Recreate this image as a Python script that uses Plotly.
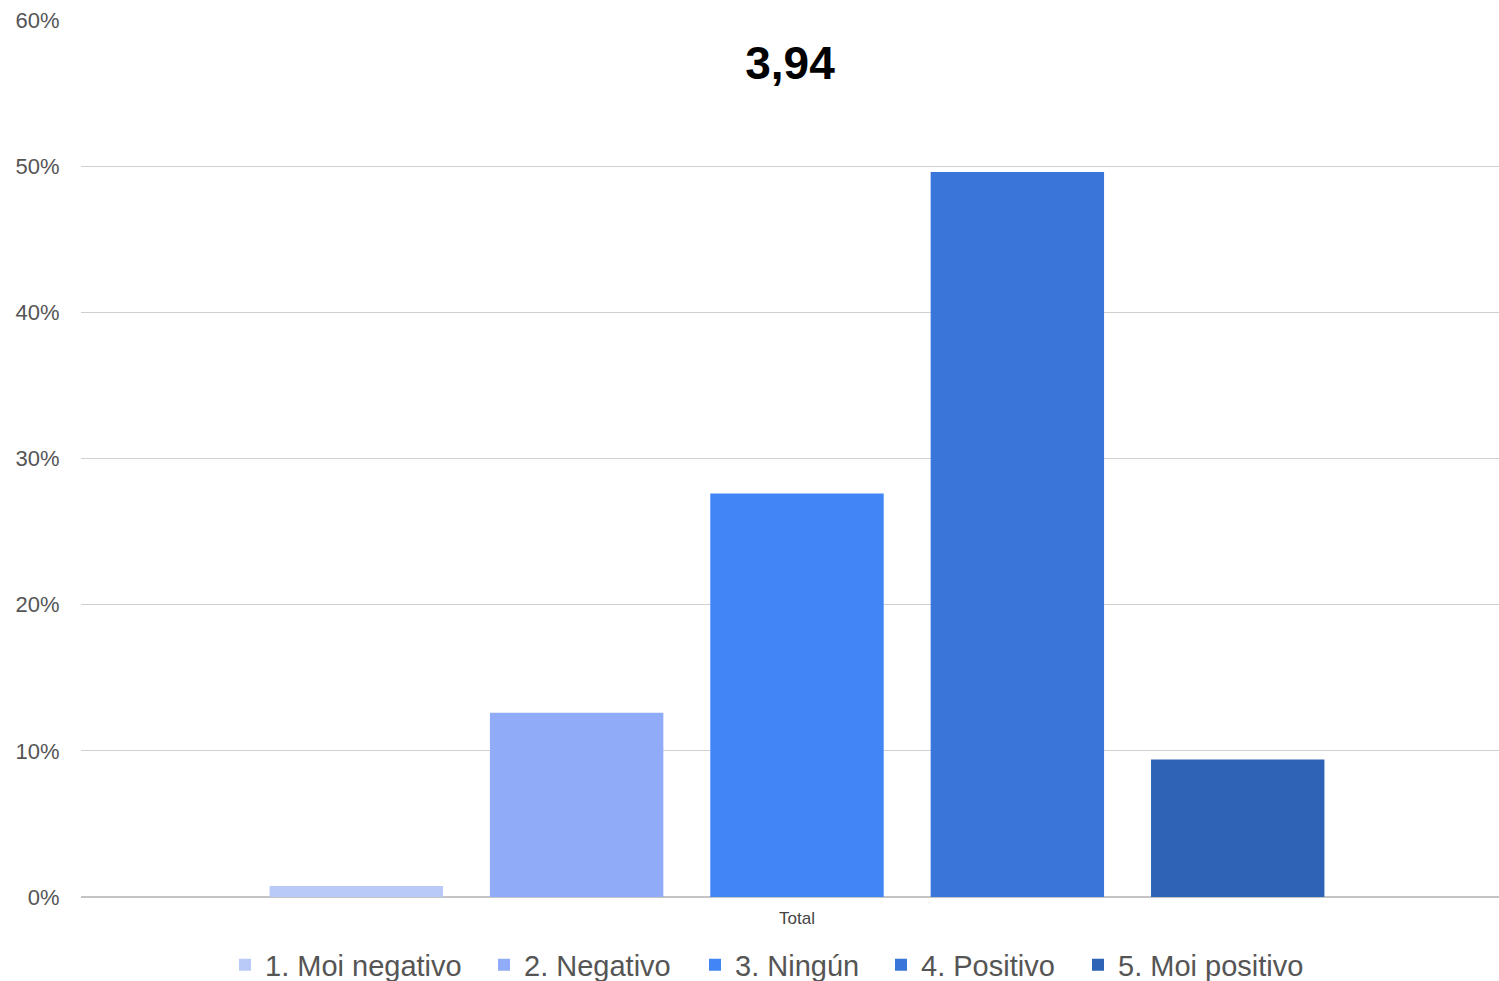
import plotly.graph_objects as go

categories = ["Total"]
series_names = ["1. Moi negativo", "2. Negativo", "3. Ningún", "4. Positivo", "5. Moi positivo"]
series_values = [0.75, 12.6, 27.6, 49.6, 9.4]
colors = ["#b9c9f8", "#90acf8", "#4285f4", "#3a76d9", "#2e63b6"]
y_ticks = [0, 10, 20, 30, 40, 50, 60]
y_tick_labels = ["0%", "10%", "20%", "30%", "40%", "50%", "60%"]
title_text = "3,94"

# legend item text start positions (px) in the reference
legend_text_px = [265, 524, 735, 921, 1118]

W, H = 1499, 981
ML, MR, MT, MB = 81, 0, 20, 84
PW = W - ML - MR
PH = H - MT - MB
x_shift = 7 / PW  # reference bar group is centred slightly right of the plot centre

fig = go.Figure()
legend_layouts = {}
for i, (name, val, col) in enumerate(zip(series_names, series_values, colors)):
    lg = "legend" if i == 0 else f"legend{i+1}"
    fig.add_trace(go.Bar(x=categories, y=[val], name=name, legend=lg,
                         marker=dict(color=col, line=dict(width=0))))
    legend_layouts[lg] = dict(
        orientation="h", x=(legend_text_px[i] - 40 - ML) / PW, xanchor="left",
        y=-(965 - (MT + PH)) / PH, yanchor="middle",
        font=dict(size=29, color="#555555"), itemclick=False, itemdoubleclick=False,
        bgcolor="rgba(0,0,0,0)", borderwidth=0,
    )

fig.update_layout(
    width=W, height=H,
    barmode="group", bargap=0.223, bargroupgap=0.213,
    plot_bgcolor="white", paper_bgcolor="white",
    margin=dict(l=ML, r=MR, t=MT, b=MB, autoexpand=False),
    font=dict(family="Liberation Sans, Arial, sans-serif", color="#555555"),
    title=dict(text="<b>" + title_text + "</b>", x=0.5, xref="paper", xanchor="center",
               y=1 - (63 - MT) / PH, yref="paper", yanchor="middle",
               font=dict(size=46, color="#000000", family="Liberation Sans, Arial, sans-serif")),
    showlegend=True,
    **legend_layouts,
)
fig.update_yaxes(range=[0, 60], tickmode="array", tickvals=y_ticks, ticktext=y_tick_labels,
                 showgrid=True, gridcolor="#d0d0d0", gridwidth=1,
                 zeroline=True, zerolinecolor="#c4c4c4", zerolinewidth=2,
                 ticks="outside", ticklen=16, tickcolor="rgba(0,0,0,0)",
                 tickfont=dict(size=22, color="#555555"))
fig.update_xaxes(range=[-0.5 - x_shift, 0.5 - x_shift],
                 showgrid=False, showline=False, tickfont=dict(size=17, color="#444444"),
                 ticks="outside", ticklen=6, tickcolor="rgba(0,0,0,0)")

fig.write_html("out.html", config={"displayModeBar": False},
               post_script="document.body.style.margin='0';document.body.style.overflow='hidden';")
